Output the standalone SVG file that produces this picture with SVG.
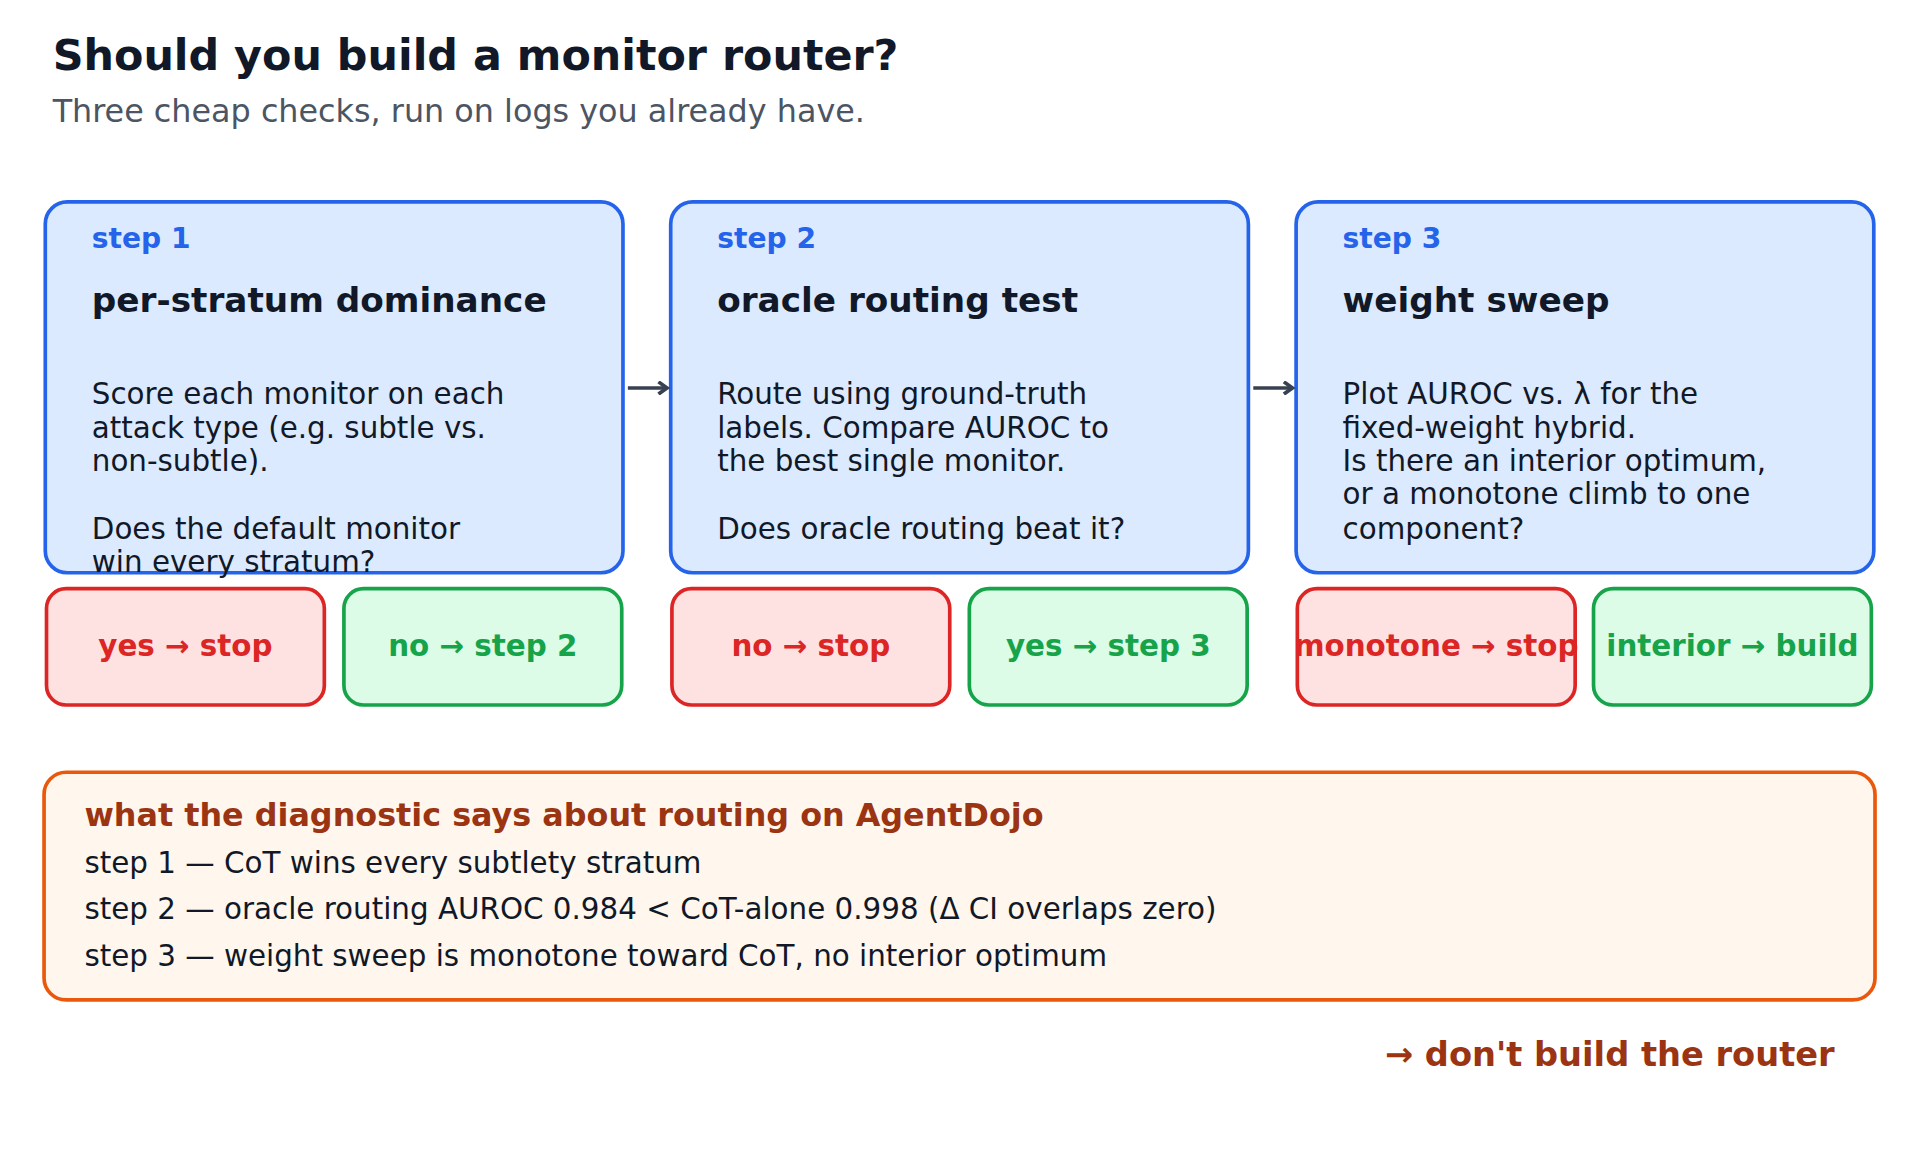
<svg xmlns="http://www.w3.org/2000/svg" width="1919" height="1162" viewBox="0 0 1919 1162">
<style>
text{font-family:"DejaVu Sans",sans-serif;}
.step{fill:#dbeafe;stroke:#2563eb;stroke-width:3}
.lbl{fill:#2563eb;font-size:23px;font-weight:bold}
.hd{fill:#111827;font-size:28px;font-weight:bold}
.bd{fill:#111827;font-size:24px}
.red{fill:#fee2e2;stroke:#dc2626;stroke-width:3}
.grn{fill:#dcfce7;stroke:#16a34a;stroke-width:3}
.rt{fill:#dc2626;font-size:24px;font-weight:bold;text-anchor:middle}
.gt{fill:#16a34a;font-size:24px;font-weight:bold;text-anchor:middle}
.arr{stroke:#374151;stroke-width:3;fill:none}
</style>
<defs><marker id="ah" markerWidth="12" markerHeight="12" refX="9" refY="6" orient="auto" markerUnits="userSpaceOnUse"><path d="M2,1 L9,6 L2,11" fill="none" stroke="#374151" stroke-width="3"/></marker></defs>
<rect width="1919" height="1162" fill="#fff"/>
<g transform="scale(1.2239)">
<text x="43" y="57" style="font-size:35px;font-weight:bold;fill:#111827">Should you build a monitor router?</text>
<text x="43" y="100" style="font-size:26px;fill:#4b5563">Three cheap checks, run on logs you already have.</text>
<g id="step1"><rect class="step" x="37" y="165" width="472" height="303" rx="18"/>
<text class="lbl" x="75" y="203">step 1</text><text class="hd" x="75" y="255">per-stratum dominance</text>
<text class="bd" x="75" y="330">Score each monitor on each</text><text class="bd" x="75" y="358">attack type (e.g. subtle vs.</text><text class="bd" x="75" y="385">non-subtle).</text><text class="bd" x="75" y="440">Does the default monitor</text><text class="bd" x="75" y="467">win every stratum?</text></g>
<g id="step2"><rect class="step" x="548" y="165" width="472" height="303" rx="18"/>
<text class="lbl" x="586" y="203">step 2</text><text class="hd" x="586" y="255">oracle routing test</text>
<text class="bd" x="586" y="330">Route using ground-truth</text><text class="bd" x="586" y="358">labels. Compare AUROC to</text><text class="bd" x="586" y="385">the best single monitor.</text><text class="bd" x="586" y="440">Does oracle routing beat it?</text></g>
<g id="step3"><rect class="step" x="1059" y="165" width="472" height="303" rx="18"/>
<text class="lbl" x="1097" y="203">step 3</text><text class="hd" x="1097" y="255">weight sweep</text>
<text class="bd" x="1097" y="330">Plot AUROC vs. λ for the</text><text class="bd" x="1097" y="358">fixed-weight hybrid.</text><text class="bd" x="1097" y="385">Is there an interior optimum,</text><text class="bd" x="1097" y="412">or a monotone climb to one</text><text class="bd" x="1097" y="440">component?</text></g>
<g id="o1"><rect class="red" x="38" y="481" width="227" height="95" rx="16"/><text class="rt" x="151.5" y="536">yes → stop</text></g>
<g id="o2"><rect class="grn" x="281" y="481" width="227" height="95" rx="16"/><text class="gt" x="394.5" y="536">no → step 2</text></g>
<g id="o3"><rect class="red" x="549" y="481" width="227" height="95" rx="16"/><text class="rt" x="662.5" y="536">no → stop</text></g>
<g id="o4"><rect class="grn" x="792" y="481" width="227" height="95" rx="16"/><text class="gt" x="905.5" y="536">yes → step 3</text></g>
<g id="o5"><rect class="red" x="1060" y="481" width="227" height="95" rx="16"/><text class="rt" x="1173.5" y="536">monotone → stop</text></g>
<g id="o6"><rect class="grn" x="1302" y="481" width="227" height="95" rx="16"/><text class="gt" x="1415.5" y="536">interior → build</text></g>
<g id="connectors"><line class="arr" x1="513" y1="317" x2="545" y2="317" marker-end="url(#ah)"/><line class="arr" x1="1024" y1="317" x2="1056" y2="317" marker-end="url(#ah)"/></g>
<g id="summary"><rect x="36" y="631" width="1496" height="186" rx="18" fill="#fff7ed" stroke="#ea580c" stroke-width="3"/>
<text x="69" y="675" style="font-size:26px;font-weight:bold;fill:#9a3412">what the diagnostic says about routing on AgentDojo</text>
<text class="bd" x="69" y="713">step 1 — CoT wins every subtlety stratum</text>
<text class="bd" x="69" y="751">step 2 — oracle routing AUROC 0.984 &lt; CoT-alone 0.998 (Δ CI overlaps zero)</text>
<text class="bd" x="69" y="789">step 3 — weight sweep is monotone toward CoT, no interior optimum</text></g>
<text x="1499" y="871" text-anchor="end" style="font-size:27.5px;font-weight:bold;fill:#9a3412">→ don't build the router</text>
</g>
</svg>
